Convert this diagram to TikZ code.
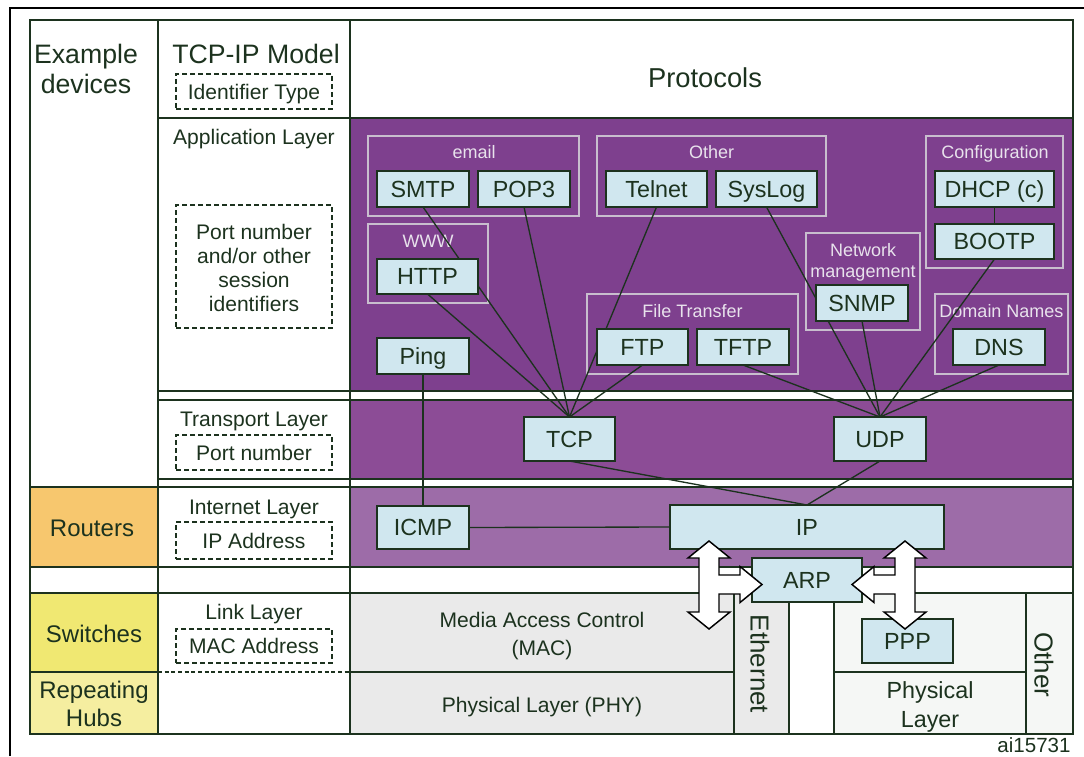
\documentclass[tikz,border=0pt]{standalone}
\usepackage{fontspec}
\setmainfont{Liberation Sans}
\definecolor{ink}{RGB}{28,50,30}
\definecolor{appP}{RGB}{126,64,142}
\definecolor{trnP}{RGB}{140,76,150}
\definecolor{intP}{RGB}{157,108,168}
\definecolor{boxB}{RGB}{208,231,239}
\definecolor{grpL}{RGB}{200,190,206}
\definecolor{grpT}{RGB}{232,226,236}
\definecolor{macG}{RGB}{234,234,234}
\definecolor{phyW}{RGB}{245,247,245}
\definecolor{rout}{RGB}{247,199,110}
\definecolor{swit}{RGB}{240,232,114}
\definecolor{hubs}{RGB}{245,238,160}
\newcommand\fBig{\fontsize{20}{24}\selectfont}
\newcommand\fProt{\fontsize{20.5}{24}\selectfont}
\newcommand\fDev{\fontsize{18}{21}\selectfont}
\newcommand\fBox{\fontsize{17.5}{21}\selectfont}
\newcommand\fLay{\fontsize{15.8}{18}\selectfont}
\newcommand\fGrp{\fontsize{13.5}{15.5}\selectfont}
\newcommand\fMac{\fontsize{15.8}{18}\selectfont}
\newcommand\fRot{\fontsize{19.5}{22}\selectfont}
\newcommand\fTag{\fontsize{15.4}{18}\selectfont}
\newcommand\pbx[7][]{\node[pbox,#1,minimum width={(#5-#3)*0.75pt},minimum height={(#6-#4)*0.75pt}] (#2) at ({(#3+#5)/2},{(#4+#6)/2}) {#7};}
\newcommand\gbx[6][]{\node[grp,#1,minimum width={(#5-#3)*0.75pt},minimum height={(#6-#4)*0.75pt}] (#2) at ({(#3+#5)/2},{(#4+#6)/2}) {};}
\pgfdeclarelayer{bg}
\pgfdeclarelayer{wires}
\pgfsetlayers{bg,wires,main}
\begin{document}
\begin{tikzpicture}[x=0.75pt,y=-0.75pt,line join=miter,
  cell/.style={draw=ink,line width=1.1pt},
  pbox/.style={draw=ink,line width=1.3pt,fill=boxB,inner sep=0pt,outer sep=0pt,text=ink,font=\fBox,text height=12.6pt,text depth=0pt},
  grp/.style={draw=grpL,line width=1.1pt,inner sep=0pt,outer sep=0pt},
  glab/.style={text=grpT,font=\fGrp,anchor=base,inner sep=0pt},
  lab/.style={text=ink,anchor=base,inner sep=0pt},
  idbox/.style={draw=ink,line width=1.1pt,dash pattern=on 3.5pt off 2.5pt,inner sep=0pt,outer sep=0pt,text=ink,font=\fLay,text height=11.4pt,text depth=0pt},
  wire/.style={draw=ink,line width=1pt},
  blockarrow/.style={draw=black,line width=1.1pt,fill=white,line join=miter}]
\useasboundingbox (0,0) rectangle (1084,756);

\begin{pgfonlayer}{bg}
% devices column
\draw[cell] (30,20) rectangle (158,487);
\draw[cell,fill=rout] (30,487) rectangle (158,567);
\draw[cell] (30,567) rectangle (158,593);
\draw[cell,fill=swit] (30,593) rectangle (158,672);
\draw[cell,fill=hubs] (30,672) rectangle (158,734);
% model column
\draw[cell] (158,20) rectangle (350,118);
\draw[cell] (158,118) rectangle (350,391);
\draw[cell] (158,391) rectangle (350,400);
\draw[cell] (158,400) rectangle (350,479);
\draw[cell] (158,479) rectangle (350,487);
\draw[cell] (158,487) rectangle (350,567);
\draw[cell] (158,567) rectangle (350,593);
\draw[cell] (158,593) rectangle (350,734);
\draw[draw=ink,line width=0.9pt,dash pattern=on 3pt off 2pt] (158,672) -- (350,672);
% protocols column
\draw[cell] (350,20) rectangle (1073,118);
\draw[cell,fill=appP] (350,118) rectangle (1073,391);
\draw[cell] (350,391) rectangle (1073,400);
\draw[cell,fill=trnP] (350,400) rectangle (1073,479);
\draw[cell] (350,479) rectangle (1073,487);
\draw[cell,fill=intP] (350,487) rectangle (1073,567);
\draw[cell] (350,567) rectangle (1073,593);
\draw[cell,fill=macG] (350,593) rectangle (734,672);
\draw[cell,fill=macG] (350,672) rectangle (734,734);
\draw[cell,fill=macG] (734,593) rectangle (789,734);
\draw[cell] (789,600) -- (789,734) -- (834,734);
\draw[cell,fill=phyW] (834,593) rectangle (1026,672);
\draw[cell,fill=phyW] (834,672) rectangle (1026,734);
\draw[cell,fill=phyW] (1026,593) rectangle (1073,734);
% outer frame
\draw[line width=2pt,black] (10,756) -- (10,8) -- (1084,8);
% group boxes
\gbx{gmail}{368}{136}{579}{216}
\gbx{gwww}{368}{224}{488}{303}
\gbx{goth}{597}{136}{826}{216}
\gbx{gfile}{587}{294}{798}{374}
\gbx{gnet}{806}{233}{920}{330}
\gbx{gcfg}{926}{136}{1063}{268}
\gbx{gdom}{935}{294}{1068}{374}
\node[glab] (lmail) at (474,159) {email};
\node[glab] (lwww) at (428,247) {WWW};
\node[glab] (loth) at (711.5,159) {Other};
\node[glab] (lfile) at (692.5,317) {File Transfer};
\node[glab] (lnet1) at (863,256) {Network};
\node[glab] (lnet2) at (863,277) {management};
\node[glab] (lcfg) at (995,159) {Configuration};
\node[glab] (ldom) at (1001.5,317) {Domain Names};
\end{pgfonlayer}

% header / label texts
\node[lab,font=\fBig] (exa) at (86,63.5) {Example};
\node[lab,font=\fBig] (dev) at (86,93.5) {devices};
\node[lab,font=\fBig] (tcpm) at (256,63.5) {TCP-IP Model};
\node[lab,font=\fProt] (prot) at (705,88) {Protocols};
\node[lab,font=\fDev] (rout) at (92,536) {Routers};
\node[lab,font=\fDev] (swit) at (94,642) {Switches};
\node[lab,font=\fDev] (rep1) at (94,698) {Repeating};
\node[lab,font=\fDev] (rep2) at (94,726) {Hubs};

\node[lab,font=\fLay] (lapp) at (254,144.5) {Application Layer};
\node[lab,font=\fLay] (ltrn) at (254,426.5) {Transport Layer};
\node[lab,font=\fLay] (lint) at (254,514) {Internet Layer};
\node[lab,font=\fLay] (llnk) at (254,619) {Link Layer};

\node[idbox,minimum width={156*0.75pt},minimum height={35*0.75pt}] (idt) at (254,91.5) {Identifier Type};
\node[idbox,minimum width={156*0.75pt},minimum height={123*0.75pt}] (idport) at (254,266.5) {};
\node[lab,font=\fLay] (pn1) at (254,239.5) {Port number};
\node[lab,font=\fLay] (pn2) at (254,263.5) {and/or other};
\node[lab,font=\fLay] (pn3) at (254,287.5) {session};
\node[lab,font=\fLay] (pn4) at (254,311.5) {identifiers};
\node[idbox,minimum width={156*0.75pt},minimum height={35*0.75pt}] (idtrn) at (254,452.5) {Port number};
\node[idbox,minimum width={156*0.75pt},minimum height={37*0.75pt}] (idip) at (254,540.5) {IP Address};
\node[idbox,minimum width={156*0.75pt},minimum height={34*0.75pt}] (idmac) at (254,646) {MAC Address};

\node[lab,font=\fMac] (mac1) at (542,627) {Media Access Control};
\node[lab,font=\fMac] (mac2) at (542,655) {(MAC)};
\node[lab,font=\fMac] (phy) at (542,712) {Physical Layer (PHY)};
\node[lab,font=\fBox] (phr1) at (930,698) {Physical};
\node[lab,font=\fBox] (phr2) at (930,727) {Layer};
\node[text=ink,font=\fRot,rotate=-90,inner sep=0pt,text height=14pt,text depth=0pt] (eth) at (760,664) {Ethernet};
\node[text=ink,font=\fRot,rotate=-90,inner sep=0pt,text height=14pt,text depth=0pt] (oth) at (1044,665) {Other};
\node[text=ink,font=\fTag,anchor=base,inner sep=0pt] (tag) at (1034,752.5) {ai15731};

% protocol boxes
\pbx{smtp}{377}{171}{469}{207}{SMTP}
\pbx{pop3}{478}{171}{570}{207}{POP3}
\pbx{telnet}{606}{171}{707}{207}{Telnet}
\pbx{syslog}{716}{171}{817}{207}{SysLog}
\pbx{dhcp}{935}{171}{1054}{207}{DHCP (c)}
\pbx{bootp}{935}{224}{1054}{259}{BOOTP}
\pbx{http}{377}{259}{478}{294}{HTTP}
\pbx{snmp}{816}{285}{908}{321}{SNMP}
\pbx{ftp}{597}{329}{688}{365}{FTP}
\pbx{tftp}{697}{329}{789}{365}{TFTP}
\pbx{dns}{953}{329}{1045}{365}{DNS}
\pbx{ping}{377}{338}{469}{374}{Ping}
\pbx{tcp}{524}{417}{615}{461}{TCP}
\pbx{udp}{834}{417}{926}{461}{UDP}
\pbx{icmp}{377}{506}{469}{549}{ICMP}
\pbx{ip}{670}{505}{944}{549}{IP}
\pbx{arp}{752}{558}{862}{602}{ARP}
\pbx{ppp}{862}{619}{953}{663}{PPP}

% connectors
\begin{pgfonlayer}{wires}
\draw[wire] (smtp.south) -- (tcp.north);
\draw[wire] (http.south) -- (tcp.north);
\draw[wire] (pop3.south) -- (tcp.north);
\draw[wire] (telnet.south) -- (tcp.north);
\draw[wire] (ftp.south) -- (tcp.north);
\draw[wire] (tftp.south) -- (udp.north);
\draw[wire] (syslog.south) -- (udp.north);
\draw[wire] (snmp.south) -- (udp.north);
\draw[wire] (bootp.south) -- (udp.north);
\draw[wire] (dns.south) -- (udp.north);
\draw[wire] (dhcp.south) -- (bootp.north);
\draw[wire] (ping.south) -- (icmp.north);
\draw[wire] (icmp.east) -- (ip.west);
\draw[wire] (tcp.south) -- (ip.north);
\draw[wire] (udp.south) -- (ip.north);
\end{pgfonlayer}

% block arrows between IP, ARP and the link layer
\draw[blockarrow] (709,541) -- (730,558) -- (719,558) -- (719,575) -- (740,575) -- (740,566.5) -- (762,584.5) -- (740,602.5) -- (740,594) -- (719,594) -- (719,612) -- (730,612) -- (709,629) -- (688,612) -- (699,612) -- (699,558) -- (688,558) -- cycle;
\draw[blockarrow] (905,541) -- (884,558) -- (895,558) -- (895,575) -- (874,575) -- (874,566.5) -- (852,584.5) -- (874,602.5) -- (874,594) -- (895,594) -- (895,612) -- (884,612) -- (905,629) -- (926,612) -- (915,612) -- (915,558) -- (926,558) -- cycle;
\end{tikzpicture}
\end{document}
